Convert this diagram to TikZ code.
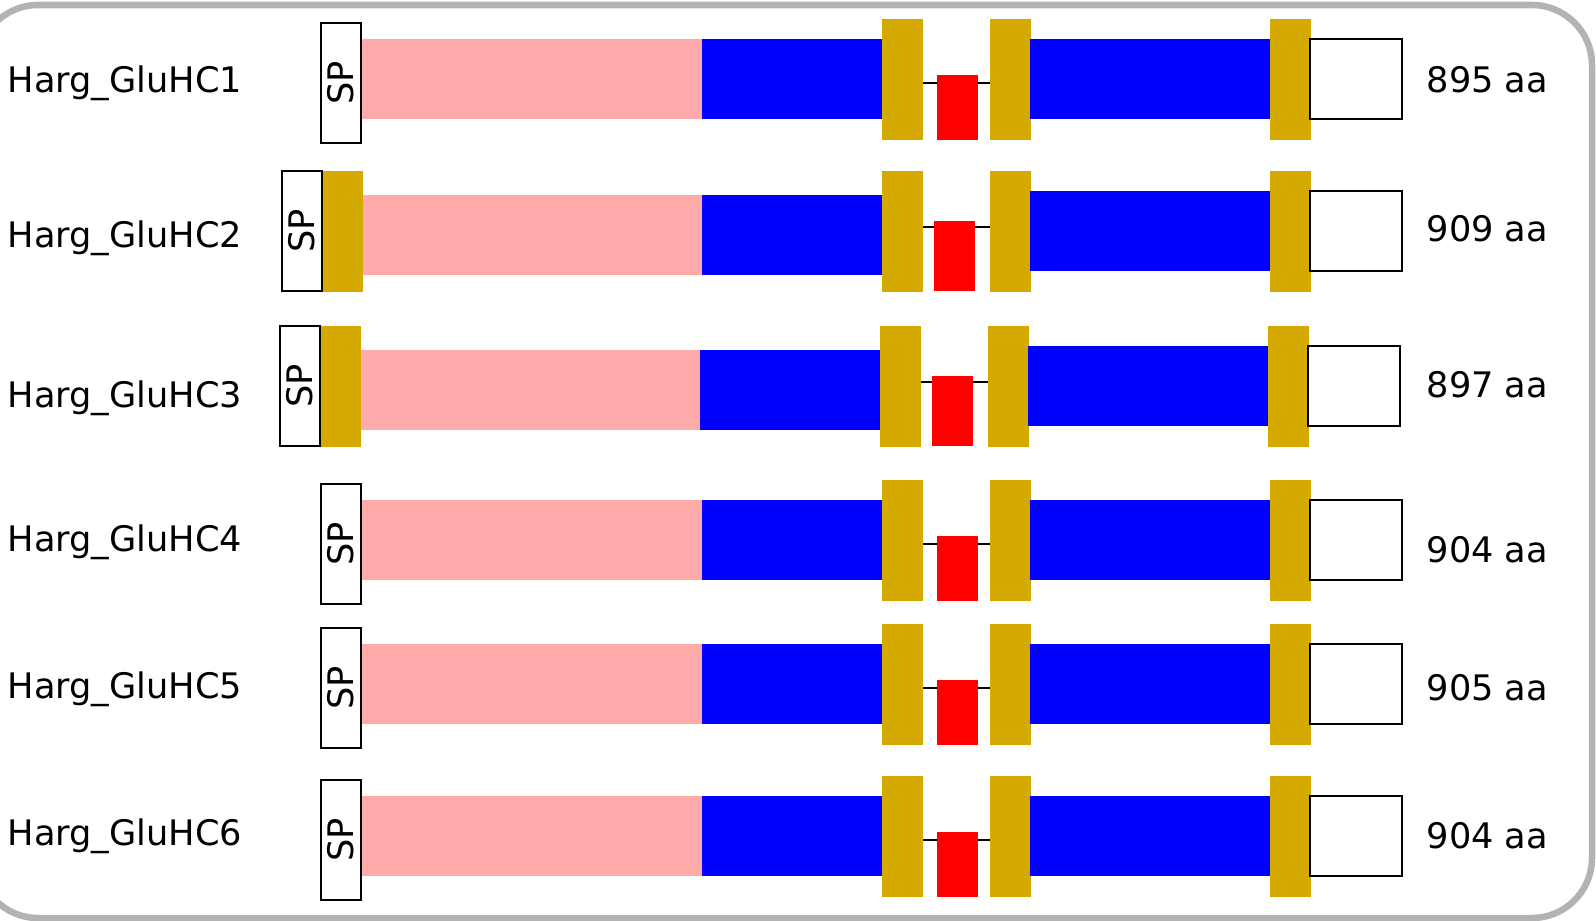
\documentclass[tikz,border=0pt]{standalone}
\usepackage{fontspec}
\setmainfont{DejaVu Sans}
\usepackage{graphicx}
\usetikzlibrary{positioning}
\definecolor{frame}{RGB}{179,179,179}
\definecolor{ntd}{RGB}{255,170,170}
\definecolor{lbd}{RGB}{0,0,255}
\definecolor{tm}{RGB}{212,170,0}
\definecolor{pore}{RGB}{255,0,0}

\tikzset{
  dom/.style={inner sep=0pt, outer sep=0pt, anchor=north west, minimum height=0.8cm},
  ntdbox/.style={dom, fill=ntd, minimum width=3.4cm},
  lbdbox/.style={dom, fill=lbd},
  tmbox/.style={dom, fill=tm, minimum width=0.41cm, minimum height=1.21cm},
  porebox/.style={dom, fill=pore, minimum width=0.41cm},
  spbox/.style={dom, draw, line width=0.5pt, fill=white, minimum width=0.4cm, minimum height=1.2cm},
  ctdbox/.style={dom, draw, line width=0.5pt, fill=white, minimum width=0.92cm},
  lbl/.style={anchor=base west, inner sep=0pt},
}

\begin{document}
\begin{tikzpicture}[x=0.01cm, y=-0.01cm, font=\fontsize{10}{12}\selectfont]
    \useasboundingbox (0,0) rectangle (1596,921);
    \draw[frame, line width=0.065cm, rounded corners=0.6cm] (-22,5) rectangle (1592,918);
    % one row per receptor: index/kind/top/xshift/pore x/name base/length base/length
    \foreach \i/\k/\yt/\dx/\rx/\nb/\lb/\naa in {1/0/19/0/937/92/93/895 aa, 2/1/171/0/934/247/241/909 aa,
        3/1/326/-2/932/407/397/897 aa, 4/0/480/0/937/551/562/904 aa, 5/0/624/0/937/698/700/905 aa,
        6/0/776/0/937/845/848/904 aa}{
      \pgfmathsetmacro{\ptop}{20+4*\k}
      \pgfmathsetmacro{\rtop}{56-6*\k}
      \pgfmathsetmacro{\lsh}{-0.035+0.08*\k}
      \node[lbl] (name-\i) at (7,\nb) {Harg\_GluHC\i};
      \node[ntdbox] (ntd-\i) at (362+\dx,\yt+\ptop) {};
      \node[lbdbox, minimum width=1.8cm] (lbd1-\i) at (702+\dx,\yt+\ptop) {};
      \node[tmbox] (tm1-\i) at (882+\dx,\yt) {};
      \node[tmbox] (tm2-\i) at (990+\dx,\yt) {};
      \draw[line width=0.5pt] ([yshift=\lsh cm]tm1-\i.east) -- ([yshift=\lsh cm]tm2-\i.west);
      \node[porebox, minimum height=0.65cm+0.05cm*\k] (pore-\i) at (\rx,\yt+\rtop) {};
      \node[lbdbox, minimum width=2.4cm] (lbd2-\i) at (1030+\dx,\yt+20) {};
      \node[tmbox] (tm3-\i) at (1270+\dx,\yt) {};
      \node[ctdbox] (ctd-\i) at (1310+\dx,\yt+20) {};
      \node[lbl] (len-\i) at (1426,\lb) {\naa};
      \ifnum\k=1
        \node[tmbox] (tm0-\i) at (322+\dx,\yt) {};
        \node[spbox, anchor=north east] (sp-\i) at (tm0-\i.north west) {\rotatebox{90}{SP}};
      \else
        \node[spbox] (sp-\i) at (321,\yt+4) {\rotatebox{90}{SP}};
      \fi
    }
\end{tikzpicture}
\end{document}
